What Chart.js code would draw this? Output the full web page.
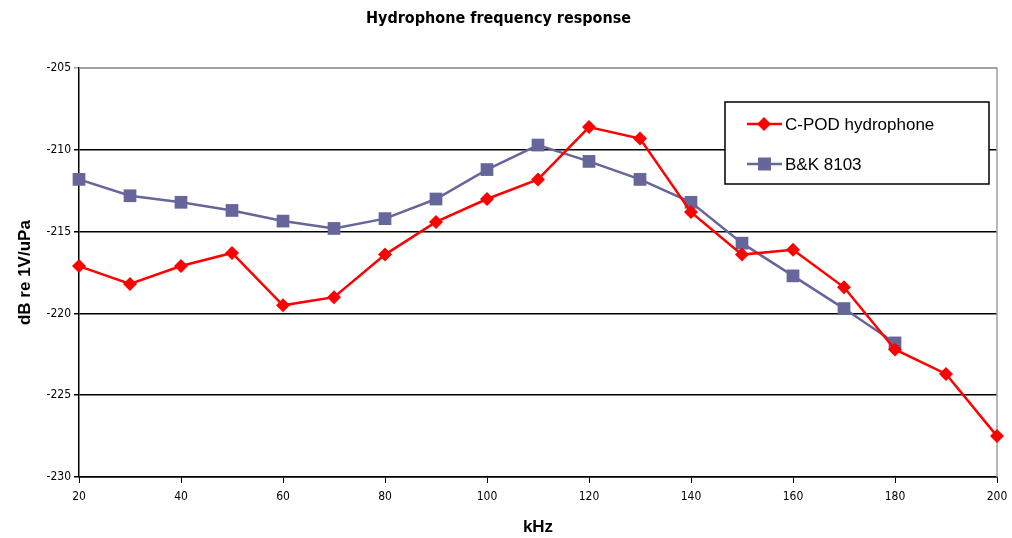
<!DOCTYPE html>
<html>
<head>
<meta charset="utf-8">
<script src="https://cdn.jsdelivr.net/npm/chart.js@4/dist/chart.umd.min.js"></script>
<style>
  html, body { margin: 0; padding: 0; background: #fff; }
  #wrap { width: 1012px; height: 538px; }
</style>
</head>
<body>
<div id="wrap"><canvas id="c"></canvas></div>
<script>
// frequencies (kHz)
const freqs = [20, 30, 40, 50, 60, 70, 80, 90, 100, 110, 120, 130, 140, 150, 160, 170, 180, 190, 200];
const cpodValues = [-217.1, -218.2, -217.1, -216.3, -219.5, -219.0, -216.4, -214.4, -213.0, -211.8,
                    -208.6, -209.3, -213.8, -216.4, -216.1, -218.4, -222.2, -223.7, -227.5];
const bkFreqs = [20, 30, 40, 50, 60, 70, 80, 90, 100, 110, 120, 130, 140, 150, 160, 170, 180];
const bkValues = [-211.8, -212.8, -213.2, -213.7, -214.35, -214.8, -214.2, -213.0, -211.2, -209.7,
                  -210.7, -211.8, -213.2, -215.7, -217.7, -219.7, -221.8];
const xTicks = [20, 40, 60, 80, 100, 120, 140, 160, 180, 200];
const yTicks = [-205, -210, -215, -220, -225, -230];

const RED = '#ff0000';
const BLUE = '#66669a';
const narrow = "'DejaVu Sans Condensed', 'Liberation Sans', Arial, sans-serif";
const sans = "'Liberation Sans', Arial, sans-serif";

// gray frame on top/right + legend box drawn inside plot
const framePlugin = {
    id: 'frame',
    beforeDatasetsDraw(chart) {
        const { ctx, chartArea: a } = chart;
        ctx.save();
        ctx.strokeStyle = '#a0a0a0';
        ctx.lineWidth = 1.5;
        ctx.beginPath();
        ctx.moveTo(a.left, a.top);
        ctx.lineTo(a.right, a.top);
        ctx.lineTo(a.right, a.bottom);
        ctx.stroke();
        ctx.restore();
    },
    afterDraw(chart) {
        const { ctx } = chart;
        const bx = 725, by = 102, bw = 264, bh = 82;
        ctx.save();
        ctx.fillStyle = '#fff';
        ctx.fillRect(bx, by, bw, bh);
        ctx.strokeStyle = '#000';
        ctx.lineWidth = 1.5;
        ctx.strokeRect(bx, by, bw, bh);
        chart.data.datasets.forEach((ds, i) => {
            const y = by + 22 + i * 40;
            ctx.strokeStyle = ds.borderColor;
            ctx.lineWidth = 2.5;
            ctx.beginPath();
            ctx.moveTo(747, y);
            ctx.lineTo(782, y);
            ctx.stroke();
            ctx.fillStyle = ds.backgroundColor;
            ctx.beginPath();
            if (ds.pointStyle === 'rectRot') {
                ctx.moveTo(764, y - 7); ctx.lineTo(771, y); ctx.lineTo(764, y + 7); ctx.lineTo(757, y);
            } else {
                ctx.rect(758, y - 6.5, 13, 13);
            }
            ctx.closePath();
            ctx.fill();
            ctx.fillStyle = '#000';
            ctx.font = '17px ' + sans;
            ctx.textBaseline = 'middle';
            ctx.fillText(ds.label, 785, y + 1);
        });
        ctx.restore();
    }
};

new Chart(document.getElementById('c'), {
    type: 'line',
    data: {
        datasets: [
            {
                label: 'C-POD hydrophone',
                data: freqs.map((f, i) => ({ x: f, y: cpodValues[i] })),
                borderColor: RED,
                backgroundColor: RED,
                borderWidth: 2.5,
                pointStyle: 'rectRot',
                pointRadius: 7,
                pointBorderWidth: 0,
                clip: false,
                tension: 0
            },
            {
                label: 'B&K 8103',
                data: bkFreqs.map((f, i) => ({ x: f, y: bkValues[i] })),
                borderColor: BLUE,
                backgroundColor: BLUE,
                borderWidth: 2.5,
                pointStyle: 'rect',
                pointRadius: 9,
                pointBorderWidth: 0,
                clip: false,
                tension: 0
            }
        ]
    },
    options: {
        responsive: true,
        maintainAspectRatio: false,
        animation: false,
        layout: { padding: { left: 0, right: 15, top: 0, bottom: 0 } },
        plugins: {
            legend: { display: false },
            tooltip: { enabled: false },
            title: {
                display: true,
                text: 'Hydrophone frequency response',
                color: '#000',
                font: { family: narrow, size: 16, weight: 'bold' },
                padding: { top: 9, bottom: 40 }
            }
        },
        scales: {
            x: {
                type: 'linear',
                min: 20,
                max: 200,
                afterBuildTicks: s => { s.ticks = xTicks.map(v => ({ value: v })); },
                afterFit: s => { s.height = 61; s.paddingLeft = 0; s.paddingRight = 0; },
                grid: { drawOnChartArea: false, drawTicks: true, tickLength: 6, color: '#000' },
                border: { color: '#000', width: 1.5 },
                ticks: { color: '#000', font: { family: narrow, size: 12 }, padding: 7, maxRotation: 0 },
                title: {
                    display: true,
                    text: 'kHz',
                    color: '#000',
                    font: { family: sans, size: 17, weight: 'bold' },
                    padding: { top: 6, bottom: 0 }
                }
            },
            y: {
                min: -230,
                max: -205,
                afterBuildTicks: s => { s.ticks = yTicks.map(v => ({ value: v })); },
                afterFit: s => { s.width = 79; },
                grid: {
                    color: c => (c.tick && c.tick.value === -205 ? '#a0a0a0' : '#000'),
                    lineWidth: 1.5,
                    drawTicks: true,
                    tickLength: 5
                },
                border: { color: '#000', width: 1.5 },
                ticks: { color: '#000', font: { family: narrow, size: 12 }, padding: 3 },
                title: {
                    display: true,
                    text: 'dB re 1V/uPa',
                    color: '#000',
                    font: { family: sans, size: 17, weight: 'bold' },
                    padding: { top: 15, bottom: 0 }
                }
            }
        }
    },
    plugins: [framePlugin]
});
</script>
</body>
</html>
